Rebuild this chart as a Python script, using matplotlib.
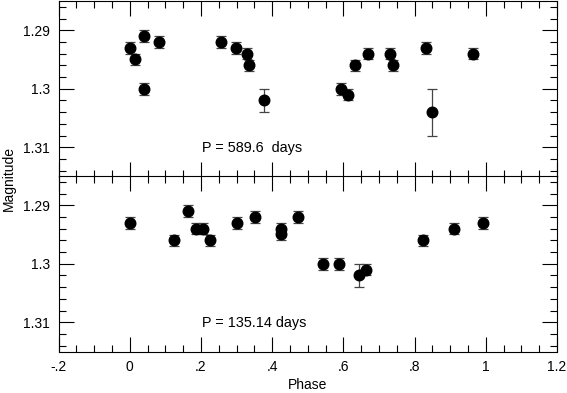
import matplotlib
matplotlib.use("Agg")
import matplotlib.pyplot as plt
from matplotlib.ticker import MultipleLocator, FormatStrFormatter, FuncFormatter

plt.rcParams["font.family"] = ["Liberation Sans", "DejaVu Sans"]
plt.rcParams["font.size"] = 10

# upper panel, P = 589.6 days
phase_a = [0.002, 0.014, 0.039, 0.040, 0.082, 0.255, 0.299, 0.328, 0.336, 0.377,
           0.593, 0.612, 0.632, 0.668, 0.730, 0.739, 0.831, 0.850, 0.964]
mag_a = [1.293, 1.295, 1.291, 1.300, 1.292, 1.292, 1.293, 1.294, 1.296, 1.302,
         1.300, 1.301, 1.296, 1.294, 1.294, 1.296, 1.293, 1.304, 1.294]
err_a = [0.001, 0.001, 0.001, 0.001, 0.001, 0.001, 0.001, 0.001, 0.001, 0.002,
         0.001, 0.001, 0.001, 0.001, 0.001, 0.001, 0.001, 0.004, 0.001]

# lower panel, P = 135.14 days
phase_b = [0.002, 0.125, 0.163, 0.187, 0.206, 0.225, 0.300, 0.351, 0.426, 0.426,
           0.474, 0.542, 0.587, 0.644, 0.664, 0.825, 0.912, 0.993]
mag_b = [1.293, 1.296, 1.291, 1.294, 1.294, 1.296, 1.293, 1.292, 1.294, 1.295,
         1.292, 1.300, 1.300, 1.302, 1.301, 1.296, 1.294, 1.293]
err_b = [0.001, 0.001, 0.001, 0.001, 0.001, 0.001, 0.001, 0.001, 0.001, 0.001,
         0.001, 0.001, 0.001, 0.002, 0.001, 0.001, 0.001, 0.001]

panels = [
    (phase_a, mag_a, err_a, "P = 589.6  days"),
    (phase_b, mag_b, err_b, "P = 135.14 days"),
]


def fmt_phase(v, pos):
    s = "%g" % round(v, 2)
    return s.replace("0.", ".")


fig = plt.figure(figsize=(5.67, 3.93), dpi=100)
left, right = 58.5 / 567, 557 / 567
tops = [1 - 1 / 393, 1 - 176 / 393]
h = 175.5 / 393

axes = []
for i, (ph, mg, er, label) in enumerate(panels):
    ax = fig.add_axes([left, tops[i] - h, right - left, h])
    ax.errorbar(ph, mg, yerr=er, fmt="o", color="black", ms=7.6,
                ecolor="#444444", elinewidth=0.9, capsize=3.6, capthick=0.9)
    ax.set_xlim(-0.2, 1.2)
    ax.set_ylim(1.315, 1.285)
    ax.xaxis.set_major_locator(MultipleLocator(0.2))
    ax.xaxis.set_minor_locator(MultipleLocator(0.05))
    ax.yaxis.set_major_locator(MultipleLocator(0.01))
    ax.yaxis.set_minor_locator(MultipleLocator(0.002))
    ax.yaxis.set_major_formatter(FormatStrFormatter("%g"))
    ax.xaxis.set_major_formatter(FuncFormatter(fmt_phase))
    ax.tick_params(which="both", direction="in", top=True, right=True, width=0.8)
    ax.tick_params(which="major", length=10.5, pad=6, labelsize=10)
    ax.tick_params(which="minor", length=5)
    for sp in ax.spines.values():
        sp.set_linewidth(0.8)
    ax.text(0.287, 0.16, label, transform=ax.transAxes, fontsize=10.4,
            ha="left", va="center")
    if i == 0:
        ax.tick_params(labelbottom=False)
    axes.append(ax)

axes[1].set_xlabel("Phase", fontsize=10, labelpad=3)
fig.text(0.016, 0.547, "Magnitude", rotation=90, ha="center", va="center",
         fontsize=10)

plt.savefig("out.png", dpi=100)
